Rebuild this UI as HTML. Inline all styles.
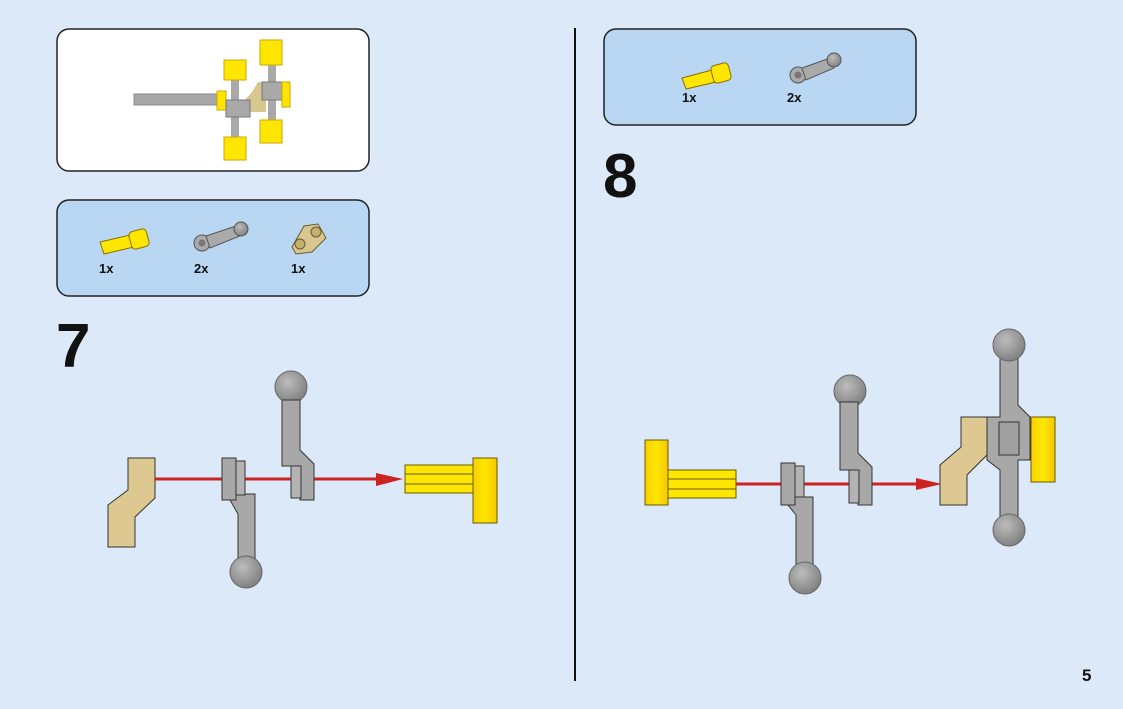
<!DOCTYPE html>
<html><head><meta charset="utf-8"><style>
html,body{margin:0;padding:0;background:#dce9f8;}
svg{display:block}
text{font-family:"Liberation Sans",Arial,sans-serif;font-weight:bold;fill:#111}
</style></head><body>
<svg width="1123" height="709" viewBox="0 0 1123 709" xmlns="http://www.w3.org/2000/svg">
<rect width="1123" height="709" fill="#dce9f8"/>
<defs>
<radialGradient id="ball" cx="40%" cy="35%" r="70%"><stop offset="0" stop-color="#bdbdbd"/><stop offset="1" stop-color="#7d7d7d"/></radialGradient>
<linearGradient id="yel" x1="0" x2="1"><stop offset="0" stop-color="#f7d000"/><stop offset=".5" stop-color="#ffe600"/><stop offset="1" stop-color="#f5c800"/></linearGradient>
</defs>
<!-- boxes -->
<rect x="57" y="29" width="312" height="142" rx="12" fill="#fff" stroke="#222" stroke-width="1.5"/>
<rect x="57" y="200" width="312" height="96" rx="12" fill="#b9d7f3" stroke="#222" stroke-width="1.5"/>
<rect x="604" y="29" width="312" height="96" rx="12" fill="#b9d7f3" stroke="#222" stroke-width="1.5"/>
<line x1="575" y1="28" x2="575" y2="681" stroke="#111" stroke-width="2"/>
<!-- top-left assembly thumbnail -->
<g>
<rect x="134" y="94" width="84" height="11" fill="#a8a8a8" stroke="#888"/>
<rect x="217" y="91" width="9" height="19" fill="#ffe600" stroke="#c9a800"/>
<rect x="231" y="62" width="8" height="78" fill="#a9a9a9"/>
<rect x="224" y="60" width="22" height="20" fill="#ffe600" stroke="#c9a800"/>
<rect x="224" y="137" width="22" height="23" fill="#ffe600" stroke="#c9a800"/>
<polygon points="245,100 252,92 258,82 266,82 266,112 248,112" fill="#d8c890"/>
<rect x="226" y="100" width="24" height="17" fill="#a9a9a9" stroke="#777"/>
<rect x="268" y="42" width="8" height="92" fill="#a9a9a9"/>
<rect x="260" y="40" width="22" height="25" fill="#ffe600" stroke="#c9a800"/>
<rect x="260" y="120" width="22" height="23" fill="#ffe600" stroke="#c9a800"/>
<rect x="262" y="82" width="22" height="18" fill="#a9a9a9" stroke="#777"/>
<rect x="282" y="82" width="8" height="25" fill="#ffe600" stroke="#c9a800"/>
</g>
<!-- parts list step 7 -->
<g>
<polygon points="100,242 130,235 134,247 104,254" fill="#ffe600" stroke="#8a7000"/>
<rect x="130" y="230" width="18" height="18" rx="4" fill="#ffe600" stroke="#8a7000" transform="rotate(-15 139 239)"/>
<circle cx="202" cy="243" r="8" fill="#aaa" stroke="#555"/><circle cx="202" cy="243" r="3.5" fill="#777"/>
<polygon points="206,236 236,226 240,236 210,248" fill="#aaa" stroke="#555"/>
<circle cx="241" cy="229" r="7" fill="url(#ball)" stroke="#555"/>
<polygon points="292,247 304,226 318,224 326,238 312,252 296,254" fill="#d8c890" stroke="#6a5a30"/>
<circle cx="300" cy="244" r="5" fill="#c4b070" stroke="#6a5a30"/>
<circle cx="316" cy="232" r="5" fill="#c4b070" stroke="#6a5a30"/>
<text x="99" y="273" font-size="13">1x</text>
<text x="194" y="273" font-size="13">2x</text>
<text x="291" y="273" font-size="13">1x</text>
</g>
<!-- parts list step 8 -->
<g>
<polygon points="682,78 712,70 716,82 686,89" fill="#ffe600" stroke="#8a7000"/>
<rect x="712" y="64" width="18" height="18" rx="4" fill="#ffe600" stroke="#8a7000" transform="rotate(-15 721 73)"/>
<circle cx="798" cy="75" r="8" fill="#aaa" stroke="#555"/><circle cx="798" cy="75" r="3.5" fill="#777"/>
<polygon points="802,68 830,58 834,68 806,80" fill="#aaa" stroke="#555"/>
<circle cx="834" cy="60" r="7" fill="url(#ball)" stroke="#555"/>
<text x="682" y="102" font-size="13">1x</text>
<text x="787" y="102" font-size="13">2x</text>
</g>
<text x="56" y="367" font-size="62">7</text>
<text x="603" y="197" font-size="62">8</text>
<text x="1082" y="681" font-size="17">5</text>
<!-- step 7 -->
<g stroke="#333" stroke-width="1">
<polygon points="128,458 155,458 155,498 135,517 135,547 108,547 108,505 128,490" fill="#dcc890"/>
<line x1="155" y1="479" x2="380" y2="479" stroke="#cc2222" stroke-width="3"/>
<polygon points="376,473 403,479 376,486" fill="#cc2222" stroke="none"/>
<polygon points="236,494 255,494 255,560 238,560 238,514 230,500" fill="#a8a8a8"/>
<rect x="236" y="461" width="9" height="34" fill="#b3b3b3"/>
<rect x="222" y="458" width="14" height="42" fill="#a8a8a8"/>
<circle cx="246" cy="572" r="16" fill="url(#ball)" stroke="#666"/>
<circle cx="291" cy="387" r="16" fill="url(#ball)" stroke="#666"/>
<polygon points="282,400 300,400 300,450 314,464 314,500 300,500 300,466 282,466" fill="#a8a8a8"/>
<rect x="291" y="466" width="10" height="32" fill="#b3b3b3"/>
<rect x="405" y="465" width="68" height="9" fill="#ffe600" stroke="#6a5a00"/>
<rect x="405" y="474" width="68" height="10" fill="#ffe600" stroke="#6a5a00"/>
<rect x="405" y="484" width="68" height="9" fill="#ffe600" stroke="#6a5a00"/>
<rect x="473" y="458" width="24" height="65" fill="url(#yel)" stroke="#6a5a00"/>
</g>
<!-- step 8 -->
<g stroke="#333" stroke-width="1">
<rect x="645" y="440" width="23" height="65" fill="url(#yel)" stroke="#6a5a00"/>
<rect x="668" y="470" width="68" height="9" fill="#ffe600" stroke="#6a5a00"/>
<rect x="668" y="479" width="68" height="10" fill="#ffe600" stroke="#6a5a00"/>
<rect x="668" y="489" width="68" height="9" fill="#ffe600" stroke="#6a5a00"/>
<line x1="736" y1="484" x2="920" y2="484" stroke="#cc2222" stroke-width="3"/>
<polygon points="916,478 942,484 916,490" fill="#cc2222" stroke="none"/>
<polygon points="795,497 813,497 813,568 796,568 796,515 788,505" fill="#a8a8a8"/>
<rect x="795" y="466" width="9" height="31" fill="#b3b3b3"/>
<rect x="781" y="463" width="14" height="42" fill="#a8a8a8"/>
<circle cx="805" cy="578" r="16" fill="url(#ball)" stroke="#666"/>
<circle cx="850" cy="391" r="16" fill="url(#ball)" stroke="#666"/>
<polygon points="840,402 858,402 858,453 872,467 872,505 858,505 858,470 840,470" fill="#a8a8a8"/>
<rect x="849" y="470" width="10" height="33" fill="#b3b3b3"/>
<polygon points="961,417 987,417 987,455 967,475 967,505 940,505 940,465 961,447" fill="#dcc890"/>
<polygon points="1000,350 1018,350 1018,405 1030,417 1030,460 1018,460 1018,520 1000,520 1000,470 987,460 987,417 1000,417" fill="#a8a8a8"/>
<rect x="999" y="422" width="20" height="33" fill="#a0a0a0"/>
<circle cx="1009" cy="345" r="16" fill="url(#ball)" stroke="#666"/>
<circle cx="1009" cy="530" r="16" fill="url(#ball)" stroke="#666"/>
<rect x="1031" y="417" width="24" height="65" fill="url(#yel)" stroke="#6a5a00"/>
</g>
</svg>
</body></html>
